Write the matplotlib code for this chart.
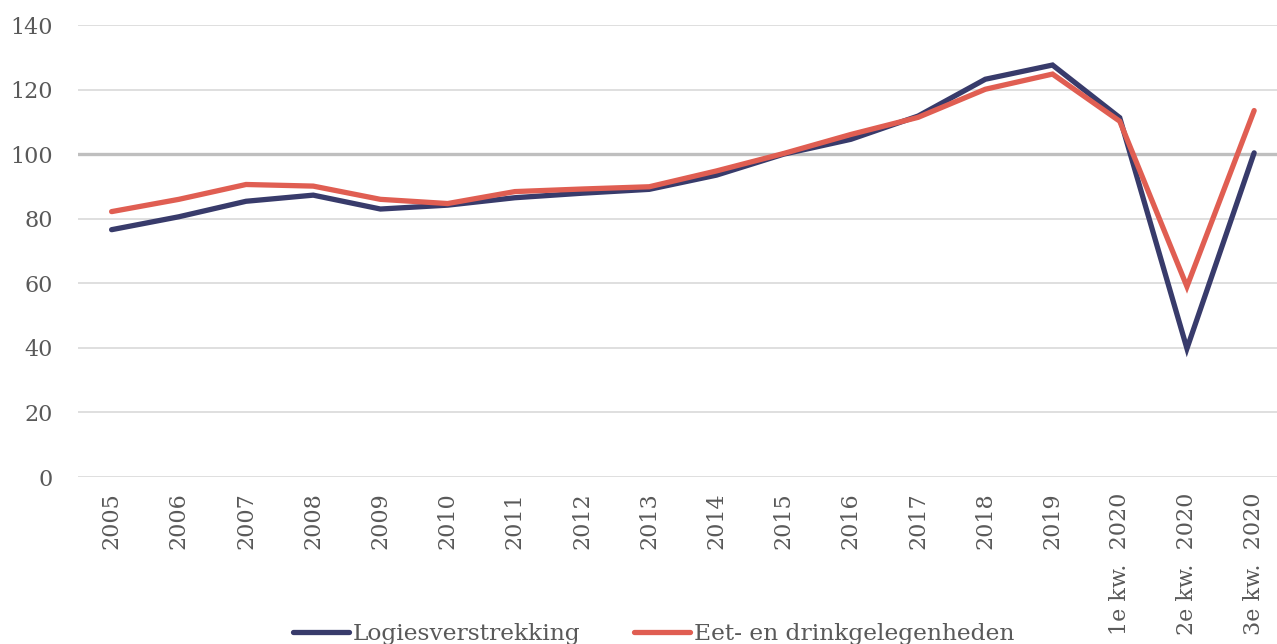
import matplotlib
matplotlib.use('Agg')
import matplotlib.pyplot as plt

labels = ['2005', '2006', '2007', '2008', '2009', '2010', '2011', '2012', '2013',
          '2014', '2015', '2016', '2017', '2018', '2019',
          '1e kw.  2020', '2e kw.  2020', '3e kw.  2020']
logies = [76.6, 80.6, 85.4, 87.3, 83.0, 84.2, 86.5, 87.9, 89.1,
          93.5, 100.0, 104.6, 111.8, 123.2, 127.6, 111.3, 39.8, 100.4]
eet_drink = [82.2, 86.0, 90.6, 90.1, 86.0, 84.7, 88.4, 89.2, 89.9,
             94.8, 100.2, 106.1, 111.4, 120.1, 124.8, 110.2, 59.0, 113.5]

plt.rcParams['font.family'] = ['DejaVu Serif']
tekst = '#595959'

fig = plt.figure(figsize=(12.77, 6.44), dpi=100)
ax = fig.add_axes([78 / 1277, 1 - 477 / 644, 1 - 78 / 1277, (477 - 25) / 644])

x = list(range(len(labels)))
for y in range(0, 141, 20):
    if y == 100:
        ax.axhline(y, color='#bfbfbf', lw=2.4, zorder=1)
    else:
        ax.axhline(y, color='#d9d9d9', lw=1.2, zorder=1)

ax.plot(x, logies, color='#383b6b', lw=3.8, solid_capstyle='round',
        solid_joinstyle='miter', label='Logiesverstrekking', zorder=3)
ax.plot(x, eet_drink, color='#e05e52', lw=3.8, solid_capstyle='round',
        solid_joinstyle='miter', label='Eet- en drinkgelegenheden', zorder=3)

ax.set_ylim(0, 140)
ax.set_xlim(-0.5, 17.34)
ax.set_yticks(range(0, 141, 20))
ax.set_xticks(x)
ax.set_xticklabels(labels, rotation=90, va='top', ha='center')
ax.tick_params(axis='both', length=0, labelsize=16, labelcolor=tekst)
ax.tick_params(axis='x', pad=11)
ax.tick_params(axis='y', pad=18)
for s in ax.spines.values():
    s.set_visible(False)

fig.legend(loc='center', bbox_to_anchor=(0.512, 0.016), ncol=2, frameon=False,
           fontsize=16.8, labelcolor=tekst, handlelength=2.4, handletextpad=0.15,
           columnspacing=2.3)

fig.savefig('out.png', dpi=100)
